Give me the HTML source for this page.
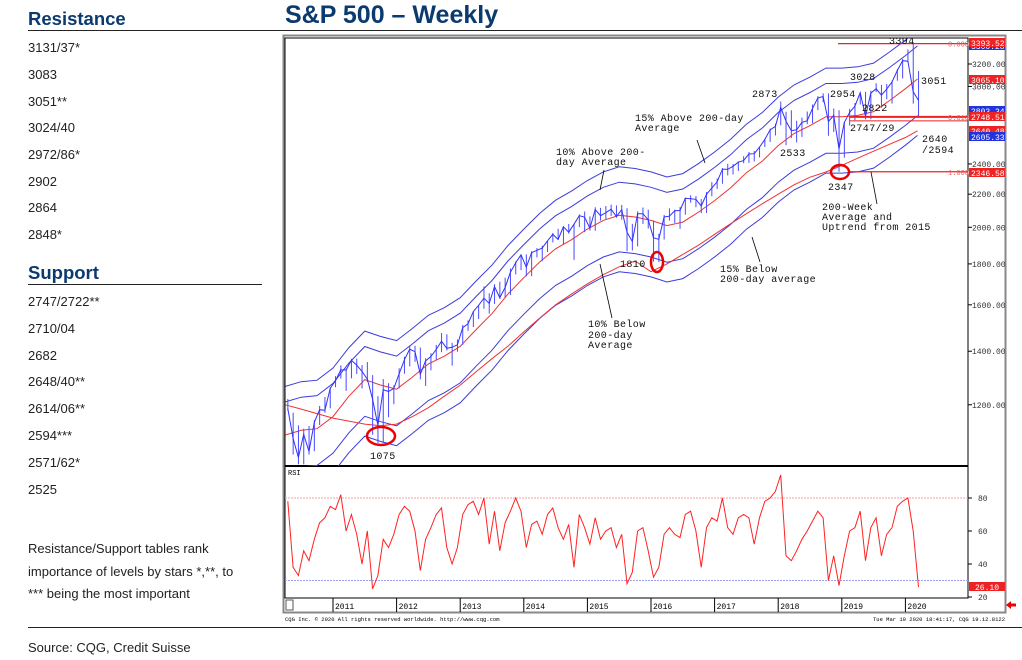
<!DOCTYPE html>
<html><head><meta charset="utf-8"><style>
body{margin:0;width:1022px;height:660px;background:#fff;font-family:"Liberation Sans",sans-serif;position:relative;overflow:hidden}
.t{position:absolute;font-size:13px;color:#222}
.h{position:absolute;font-size:18.5px;font-weight:bold;color:#0b3a6e}
svg text{font-family:"Liberation Mono",monospace}
</style></head><body>
<div class="h" style="left:28px;top:8px">Resistance</div>
<div style="position:absolute;left:28px;top:30px;width:994px;height:1px;background:#222"></div>
<div class="h" style="left:285px;top:1px;font-size:25px">S&amp;P 500 – Weekly</div>
<div>
<div class="t" style="left:28px;top:40px">3131/37*</div>
<div class="t" style="left:28px;top:67px">3083</div>
<div class="t" style="left:28px;top:94px">3051**</div>
<div class="t" style="left:28px;top:120px">3024/40</div>
<div class="t" style="left:28px;top:147px">2972/86*</div>
<div class="t" style="left:28px;top:174px">2902</div>
<div class="t" style="left:28px;top:200px">2864</div>
<div class="t" style="left:28px;top:227px">2848*</div>
</div>
<div class="h" style="left:28px;top:262px">Support</div>
<div style="position:absolute;left:28px;top:284px;width:234px;height:1px;background:#222"></div>
<div>
<div class="t" style="left:28px;top:294px">2747/2722**</div>
<div class="t" style="left:28px;top:321px">2710/04</div>
<div class="t" style="left:28px;top:348px">2682</div>
<div class="t" style="left:28px;top:374px">2648/40**</div>
<div class="t" style="left:28px;top:401px">2614/06**</div>
<div class="t" style="left:28px;top:428px">2594***</div>
<div class="t" style="left:28px;top:455px">2571/62*</div>
<div class="t" style="left:28px;top:482px">2525</div>
</div>
<div class="t" style="left:28px;top:538px;line-height:22.5px">Resistance/Support tables rank<br>importance of levels by stars *,**, to<br>*** being the most important</div>
<div style="position:absolute;left:28px;top:627px;width:994px;height:1px;background:#222"></div>
<div class="t" style="left:28px;top:640px">Source: CQG, Credit Suisse</div>

<svg id="c" width="1022" height="660" style="position:absolute;left:0;top:0"></svg>
<script>
const closes=[1187,1089,1031,1102,1049,1141,1183,1181,1258,
1286,1327,1326,1364,1345,1321,1292,1219,1131,1253,1247,1258,
1312,1366,1408,1398,1310,1362,1379,1407,1441,1412,1416,1426,
1498,1515,1569,1598,1631,1606,1686,1633,1682,1757,1806,1848,
1783,1859,1872,1884,1924,1960,1931,2003,1972,2018,2068,2059,
1995,2105,2068,2086,2107,2063,2104,1972,1920,2079,2080,2044,
1940,1932,2060,2065,2097,2099,2174,2171,2168,2126,2199,2239,
2279,2364,2363,2384,2412,2423,2470,2472,2519,2575,2648,2674,
2824,2714,2641,2648,2705,2718,2816,2902,2914,2712,2760,2507,
2704,2784,2834,2946,2752,2942,2980,2926,2977,3038,3141,3231,
3226,2954,2882];
const lows=[1180,1040,1011,1011,1040,1050,1132,1173,1188,
1262,1294,1249,1295,1311,1258,1282,1101,1075,1075,1158,1202,
1258,1312,1340,1358,1291,1267,1325,1365,1396,1403,1343,1398,
1426,1485,1501,1536,1582,1560,1604,1627,1633,1646,1746,1768,
1737,1738,1834,1814,1862,1915,1930,1904,1964,1821,2001,1972,
1981,1980,2039,2048,2067,2056,2044,1867,1871,1893,2019,1993,
1812,1810,1931,2039,2025,1991,2074,2147,2119,2083,2084,2187,
2233,2267,2322,2328,2352,2405,2407,2418,2446,2520,2557,2605,
2682,2533,2585,2553,2594,2691,2698,2802,2866,2603,2631,2347,
2444,2681,2722,2848,2728,2729,2952,2822,2891,2855,3050,3070,
3214,2855,2746];
const highs=[1220,1173,1131,1120,1129,1148,1196,1227,1262,
1303,1344,1332,1370,1371,1345,1357,1307,1230,1292,1277,1269,
1333,1378,1420,1422,1415,1372,1392,1426,1475,1470,1434,1448,
1510,1530,1570,1598,1687,1654,1698,1710,1730,1776,1813,1849,
1850,1867,1884,1897,1925,1968,1991,2005,2019,2018,2076,2093,
2064,2119,2115,2126,2135,2130,2133,2113,2020,2094,2117,2104,
2039,1963,2073,2112,2104,2120,2179,2193,2188,2169,2214,2278,
2301,2372,2401,2399,2418,2454,2484,2491,2520,2582,2657,2695,
2873,2789,2801,2718,2742,2791,2848,2917,2941,2940,2815,2801,
2708,2813,2860,2949,2954,2964,3028,3014,3021,3050,3154,3247,
3338,3394,3136];
const rsi=[78,38,33,48,42,55,65,68,75,
73,82,60,70,58,40,60,25,33,55,50,58,
70,75,72,60,36,55,62,70,74,50,40,50,
70,76,78,70,80,52,72,48,65,72,80,72,
50,64,66,58,70,74,62,55,64,38,70,62,
52,68,55,60,62,50,58,28,35,60,62,48,
32,38,58,62,58,56,70,72,60,38,62,68,
66,80,62,58,68,70,68,52,68,78,80,84,
94,45,42,48,55,60,66,72,68,30,45,27,
45,60,62,72,42,62,68,45,58,62,75,78,
80,60,26];
const maDates=[2010.25,2010.5,2010.75,2011,2011.25,2011.5,2011.75,2012,2012.25,2012.5,2012.75,2013,2013.25,2013.5,2013.75,2014,2014.25,2014.5,2014.75,2015,2015.25,2015.5,2015.75,2016,2016.25,2016.5,2016.75,2017,2017.25,2017.5,2017.75,2018,2018.25,2018.5,2018.75,2019,2019.25,2019.5,2019.75,2020,2020.19];
const ma200d=[1100,1115,1120,1160,1230,1290,1270,1255,1300,1350,1380,1420,1490,1560,1650,1730,1810,1880,1930,1990,2040,2070,2060,2040,2010,2030,2090,2160,2240,2340,2420,2530,2620,2680,2750,2750,2760,2790,2880,2980,3065];
const ma200w=[1200,1185,1170,1155,1145,1135,1130,1135,1160,1190,1230,1270,1320,1370,1420,1480,1540,1600,1650,1700,1745,1785,1815,1760,1800,1850,1900,1960,2020,2080,2140,2200,2260,2310,2345,2390,2440,2490,2540,2590,2640];
const bandPcts=[1.15,1.10,0.90,0.85];
const years=[2011,2012,2013,2014,2015,2016,2017,2018,2019,2020];
const priceTicks=[3200,3000,2400,2200,2000,1800,1600,1400,1200];
const rsiTicks=[80,60,40,20];

const X=t=>333+(t-2011)*63.6;
const Y=v=>64-800*Math.log10(v/3200);
const R=r=>498+(80-r)*1.65;
const mT=i=>2010+(3+i)/12+0.04;
const svg=document.getElementById('c');const NS='http://www.w3.org/2000/svg';
function mk(tag,at,name,parent){const e=document.createElementNS(NS,tag);for(const k in at)e.setAttribute(k,at[k]);


(parent||svg).appendChild(e);return e;}
function txt(x,y,s,name,at){const e=mk('text',Object.assign({x:x,y:y,'font-size':10},at||{}),name);e.textContent=s;return e;}
mk('rect',{x:283.5,y:35.5,width:722,height:577,fill:'#fff',stroke:'#888','stroke-width':2},'chart-frame');
mk('rect',{x:285,y:38,width:683,height:560,fill:'#fff',stroke:'#000','stroke-width':1},'plot-area');
mk('line',{x1:285,y1:466,x2:968,y2:466,stroke:'#000','stroke-width':2},'panel-divider');
mk('line',{x1:285,y1:598,x2:968,y2:598,stroke:'#000'},'x-axis-line');
const clip=mk('clipPath',{id:'cp'},'clip');mk('rect',{x:285,y:38,width:683,height:428},'clip-rect',clip);
const g=mk('g',{'clip-path':'url(#cp)'},'price-panel');
function smooth(vals){return vals.map((v,i)=>(i?'L':'M')+X(maDates[i]).toFixed(1)+','+Y(v).toFixed(1)).join('');}
bandPcts.forEach((p,k)=>mk('path',{d:smooth(ma200d.map(v=>v*p)),fill:'none',stroke:'#3b3bdf','stroke-width':1},'band-'+k,g));
mk('path',{d:smooth(ma200d),fill:'none',stroke:'#e33','stroke-width':1},'ma-200-day',g);
mk('path',{d:smooth(ma200w),fill:'none',stroke:'#e33','stroke-width':1},'ma-200-week',g);
closes.forEach((c,i)=>mk('line',{x1:X(mT(i)),x2:X(mT(i)),y1:Y(lows[i]),y2:Y(highs[i]),stroke:'#4a4aff','stroke-width':1},'price-bar',g));
mk('path',{d:closes.map((c,i)=>(i?'L':'M')+X(mT(i)).toFixed(1)+','+Y(c).toFixed(1)).join(''),fill:'none',stroke:'#3030ff','stroke-width':1},'price-line',g);
[[3393.52,838],[2748.51,850],[2346.58,850]].forEach((l,k)=>mk('line',{x1:l[1],x2:968,y1:Y(l[0]),y2:Y(l[0]),stroke:'#e22','stroke-width':k==1?2:1.2},'level-line',g));
mk('line',{x1:850,x2:968,y1:Y(2748.51)+4,y2:Y(2748.51)+4,stroke:'#e22','stroke-width':1},'level-line-2',g);
[['0.000',3393.52],['0.618',2748.51],['1.000',2346.58]].forEach(f=>txt(948,Y(f[1])+3,f[0],'fib-label',{'font-size':7,fill:'#e55'}));
[[381,436,14,9],[657,262,6,10],[840,172,9,7]].forEach(c=>mk('ellipse',{cx:c[0],cy:c[1],rx:c[2],ry:c[3],fill:'none',stroke:'#e00','stroke-width':2.5},'low-circle'));
priceTicks.forEach(v=>{mk('line',{x1:968,x2:972,y1:Y(v),y2:Y(v),stroke:'#000'},'price-tick');txt(972,Y(v)+3,v.toFixed(2),'price-tick-label',{'font-size':8,fill:'#333'});});
[['3300.28',46,'#2233dd'],['3393.52',43,'#e22'],['3065.10',80,'#e22'],['2803.34',111,'#2233dd'],['2748.51',117,'#e22'],['2640.48',131,'#e22'],['2605.33',137,'#2233dd'],['2346.58',173,'#e22']].forEach(b=>{mk('rect',{x:969,y:b[1]-5,width:36,height:9,fill:b[2]},'value-box');txt(971,b[1]+3,b[0],'value-box-label',{'font-size':8,fill:'#fff'});});
mk('line',{x1:285,x2:968,y1:R(80),y2:R(80),stroke:'#f6a0a0','stroke-dasharray':'2,1'},'rsi-80-line');
mk('line',{x1:285,x2:968,y1:R(30),y2:R(30),stroke:'#a0a0f0','stroke-dasharray':'2,1'},'rsi-30-line');
mk('path',{d:rsi.map((r,i)=>(i?'L':'M')+X(mT(i)).toFixed(1)+','+R(r).toFixed(1)).join(''),fill:'none',stroke:'#f22','stroke-width':1},'rsi-line');
rsiTicks.forEach(v=>{mk('line',{x1:968,x2:972,y1:R(v),y2:R(v),stroke:'#000'},'rsi-tick');txt(978,R(v)+3,v,'rsi-tick-label',{'font-size':8,fill:'#333'});});
mk('rect',{x:969,y:582,width:36,height:9,fill:'#e22'},'rsi-value-box');txt(975,590,'26.10','rsi-value-label',{'font-size':8,fill:'#fff'});
txt(288,475,'RSI','rsi-label',{'font-size':7});
years.forEach(y=>{mk('line',{x1:X(y),x2:X(y),y1:598,y2:612,stroke:'#000'},'year-tick');txt(X(y)+2,609,y,'year-label',{'font-size':8,'font-family':'Liberation Sans'});});
mk('rect',{x:286,y:600,width:7,height:10,fill:'#fff',stroke:'#555'},'scroll-box');
txt(285,621,'CQG Inc. © 2020 All rights reserved worldwide. http://www.cqg.com','copyright',{'font-size':5.5,'font-family':'Liberation Sans'});
txt(1005,621,'Tue Mar 10 2020 18:41:17, CQG 19.12.8122','timestamp',{'font-size':5.5,'font-family':'Liberation Sans','text-anchor':'end'});
mk('path',{d:'M1006,605 l5,-4 v2.5 h5 v3 h-5 v2.5z',fill:'#e00'},'scroll-arrow');
const ann=[[889,44,'3394'],[850,80,'3028'],[921,84,'3051'],[752,97,'2873'],[830,97,'2954'],[862,111,'2822'],[850,131,'2747/29'],[780,156,'2533'],[922,142,'2640'],[922,153,'/2594'],[828,190,'2347'],[822,210,'200-Week'],[822,220,'Average and'],[822,230,'Uptrend from  2015'],[635,121,'15% Above 200-day'],[635,131,'Average'],[556,155,'10%  Above 200-'],[556,165,'day Average'],[620,267,'1810'],[720,272,'15% Below'],[720,282,'200-day average'],[588,327,'10% Below'],[588,338,'200-day'],[588,348,'Average'],[370,459,'1075']];
ann.forEach(a=>txt(a[0],a[1],a[2],'annotation',{'font-size':10,fill:'#111','letter-spacing':0.4}));
[[697,140,705,163],[604,170,600,190],[612,318,600,264],[760,262,752,237],[877,204,871,172]].forEach(l=>mk('line',{x1:l[0],y1:l[1],x2:l[2],y2:l[3],stroke:'#000','stroke-width':0.8},'annotation-arrow'));
</script>
</body></html>
